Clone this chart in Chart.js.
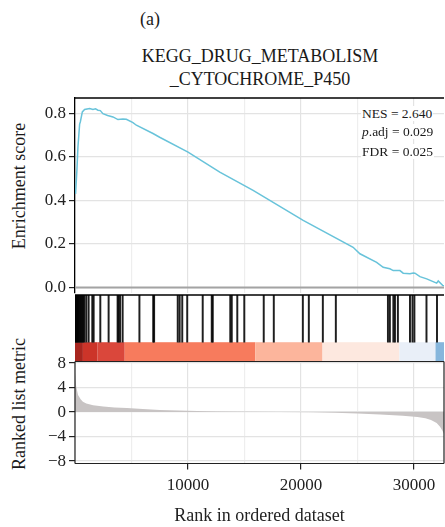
<!DOCTYPE html>
<html>
<head>
<meta charset="utf-8">
<script src="https://cdn.jsdelivr.net/npm/chart.js@4.4.1/dist/chart.umd.min.js"></script>
<style>
  body { margin: 0; background: #fff; width: 445px; height: 527px; position: relative; overflow: hidden;
         font-family: "Liberation Serif", "DejaVu Serif", serif; color: #1a1a1a; }
  canvas { position: absolute; left: 0; }
  .t { position: absolute; white-space: nowrap; }
  .stat { position: absolute; white-space: nowrap; font-size: 13.5px; line-height: 15px; background: #fff; padding: 0 1px; z-index: 2; }
  .ylab { position: absolute; white-space: nowrap; font-size: 18px; transform: translate(-50%, -50%) rotate(-90deg); }
</style>
</head>
<body>
<div class="t" style="left:140px;top:9px;font-size:18px">(a)</div>
<div class="t" style="left:75px;width:370px;top:45px;text-align:center;font-size:18px;line-height:23px">KEGG_DRUG_METABOLISM<br>_CYTOCHROME_P450</div>
<div class="stat" style="left:361px;top:106px">NES = 2.640</div>
<div class="stat" style="left:361px;top:124px"><i>p</i>.adj = 0.029</div>
<div class="stat" style="left:361px;top:144px">FDR = 0.025</div>
<div class="ylab" style="left:19px;top:186px">Enrichment score</div>
<div class="ylab" style="left:19px;top:404px">Ranked list metric</div>

<canvas id="es" width="445" height="210" style="top:90px"></canvas>
<canvas id="hits" width="445" height="75" style="top:290px"></canvas>
<canvas id="metric" width="445" height="172" style="top:355px"></canvas>

<script>
// running enrichment score
const esRank = [50, 170, 260, 410, 470, 650, 850, 1290, 1590, 1820, 2030, 2240, 2470, 2890, 3360, 3800, 4240, 4540,
  5130, 5430, 6900, 7490, 10000, 12810, 15760, 20190, 24610, 25210, 26690, 27270, 27860, 28160, 28750, 29040,
  29640, 29930, 30080, 30520, 31120, 32000, 32140, 32530, 32650];
const esScore = [0.43, 0.54, 0.645, 0.75, 0.76, 0.806, 0.817, 0.822, 0.817, 0.82, 0.814, 0.812, 0.798, 0.79, 0.783,
  0.771, 0.774, 0.772, 0.757, 0.745, 0.707, 0.69, 0.622, 0.53, 0.446, 0.308, 0.185, 0.155, 0.116, 0.093, 0.086,
  0.078, 0.078, 0.066, 0.063, 0.067, 0.066, 0.05, 0.04, 0.02, 0.03, 0.01, 0.008];

// gene set hits
const hitRank = [20, 60, 120, 190, 260, 340, 420, 500, 580, 660, 740, 830, 1000, 1205, 1530, 1650, 2240, 2975,
  3770, 3860, 3990, 4215, 5700, 6920, 7000, 9090, 9260, 9490, 9930, 11300, 12100, 12190, 13740, 13870, 14360,
  14980, 16700, 17590, 20160, 20690, 21930, 23080, 27690, 27860, 28170, 28310, 28570, 29640, 29860, 30030,
  31100, 32030];

// ranked list metric
const metricRank = [1, 100, 270, 500, 700, 1000, 1600, 2500, 3500, 4600, 6000, 7500, 10000, 12500, 15000, 18000,
  21000, 23000, 25000, 27000, 29000, 30300, 31000, 31500, 32000, 32300, 32500, 32650];
const metricValue = [6.4, 4.2, 2.8, 2.1, 1.7, 1.4, 1.1, 0.9, 0.75, 0.65, 0.5, 0.35, 0.2, 0.1, 0.03, 0, -0.05,
  -0.12, -0.25, -0.4, -0.6, -0.8, -1.0, -1.3, -1.8, -2.4, -3.0, -3.6];

// colour band along the ranking
const bandBreaks = [0, 700, 2000, 4400, 15950, 21900, 28700, 31900, 32650];

const nGenes = 32650;
const xTickLabels = [10000, 20000, 30000];
const xGridValues = [0, 5000, 10000, 15000, 20000, 25000, 30000];
const esTickLabels = [0, 0.2, 0.4, 0.6, 0.8];
const esGridValues = [0, 0.1, 0.2, 0.3, 0.4, 0.5, 0.6, 0.7, 0.8];
const metricTickLabels = [-8, -4, 0, 4, 8];
const metricGridValues = [-8, -6, -4, -2, 0, 2, 4, 6, 8];

const bandColors = ['#a8261f', '#cc3429', '#da473b', '#f77b5d', '#fcb59c', '#fde8df', '#e9eff8', '#86b6dc'];
const gridMajor = '#e3e3e3', gridMinor = '#eeeeee';

Chart.defaults.font.family = '"Liberation Serif", "DejaVu Serif", serif';
Chart.defaults.font.size = 17;
Chart.defaults.color = '#222';
Chart.defaults.animation = false;

const near = (arr, v) => arr.some(t => Math.abs(t - v) < 1e-6);
// scriptable helpers: the border option is also resolved without a tick
const isMajor = (arr, ctx) => !!ctx.tick && near(arr, ctx.tick.value);
const gridColor = arr => ctx => isMajor(arr, ctx) ? gridMajor : gridMinor;
const tickColor = arr => ctx => isMajor(arr, ctx) ? '#222' : 'rgba(0,0,0,0)';
const fixTicks = vals => s => { s.ticks = vals.map(v => ({ value: v })); };
// keep the plot area where the layout padding puts it (no room reserved for edge labels)
const fitY = w => s => { s.width = w; s.paddingTop = 0; s.paddingBottom = 0; };
const fitX = h => s => { s.height = h; s.paddingLeft = 0; s.paddingRight = 0; };

// draws lines along the edges of the plotting area
const panelBox = {
  id: 'panelBox',
  afterDraw(chart, args, opts) {
    const { ctx, chartArea: a } = chart;
    ctx.save();
    ctx.strokeStyle = opts.color || '#000';
    ctx.lineWidth = opts.width || 1;
    (opts.sides || []).forEach(s => {
      ctx.beginPath();
      if (s === 'top') { ctx.moveTo(a.left, a.top); ctx.lineTo(a.right, a.top); }
      if (s === 'bottom') { ctx.moveTo(a.left, a.bottom); ctx.lineTo(a.right, a.bottom); }
      if (s === 'left') { ctx.moveTo(a.left, a.top); ctx.lineTo(a.left, a.bottom); }
      if (s === 'right') { ctx.moveTo(a.right, a.top); ctx.lineTo(a.right, a.bottom); }
      ctx.stroke();
    });
    ctx.restore();
  }
};

// colour band under the hit lines
const rankBand = {
  id: 'rankBand',
  beforeDatasetsDraw(chart, args, opts) {
    const { ctx } = chart;
    const x = chart.scales.x, y = chart.scales.y;
    const top = y.getPixelForValue(opts.top), bottom = y.getPixelForValue(0);
    ctx.save();
    for (let i = 0; i < bandColors.length; i++) {
      const x0 = x.getPixelForValue(bandBreaks[i]);
      const x1 = x.getPixelForValue(bandBreaks[i + 1]);
      ctx.fillStyle = bandColors[i];
      ctx.fillRect(x0, top, x1 - x0, bottom - top);
    }
    ctx.restore();
  }
};

new Chart(document.getElementById('es'), {
  type: 'line',
  data: {
    datasets: [
      {
        data: [{ x: 0, y: 0 }, { x: nGenes, y: 0 }],
        borderColor: '#a3a3a3', borderWidth: 2, pointRadius: 0
      },
      {
        data: esRank.map((r, i) => ({ x: r, y: esScore[i] })),
        borderColor: '#68c3da', borderWidth: 1.5, pointRadius: 0, tension: 0
      }
    ]
  },
  options: {
    responsive: false,
    layout: { padding: { top: 8, bottom: 7, right: 1, left: 0 } },
    plugins: {
      legend: { display: false }, tooltip: { enabled: false },
      panelBox: { sides: ['top'], color: '#000', width: 1.3 }
    },
    scales: {
      x: {
        type: 'linear', min: 0, max: nGenes,
        afterBuildTicks: fixTicks(xGridValues),
        ticks: { display: false },
        grid: { color: gridColor(xTickLabels), drawTicks: false, lineWidth: 1.2 },
        border: { display: false, color: '#000' },
        afterFit: fitX(0)
      },
      y: {
        min: -0.025, max: 0.87,
        afterBuildTicks: fixTicks(esGridValues),
        ticks: { padding: 3, callback: v => near(esTickLabels, v) ? v.toFixed(1) : '' },
        grid: { color: gridColor(esTickLabels), tickColor: tickColor(esTickLabels), tickLength: 6, lineWidth: 1.2 },
        border: { display: true, color: '#000', width: 1.3 },
        afterFit: fitY(75)
      }
    }
  },
  plugins: [panelBox]
});

new Chart(document.getElementById('hits'), {
  type: 'bar',
  data: {
    datasets: [{
      data: hitRank.map(r => ({ x: r, y: [0.29, 1] })),
      backgroundColor: 'rgba(0,0,0,0.88)', barThickness: 1.3
    }]
  },
  options: {
    responsive: false,
    layout: { padding: { top: 5, bottom: 3.5, right: 1, left: 75 } },
    plugins: {
      legend: { display: false }, tooltip: { enabled: false },
      panelBox: { sides: ['top'], color: '#000', width: 1.5 },
      rankBand: { top: 0.29 }
    },
    scales: {
      x: { type: 'linear', min: 0, max: nGenes, offset: false, display: false, grid: { offset: false } },
      y: { min: 0, max: 1, display: false }
    }
  },
  plugins: [rankBand, panelBox]
});

new Chart(document.getElementById('metric'), {
  type: 'line',
  data: {
    datasets: [{
      data: metricRank.map((r, i) => ({ x: r, y: metricValue[i] })),
      borderWidth: 0, pointRadius: 0, tension: 0,
      fill: 'origin', backgroundColor: '#c8c4c4'
    }]
  },
  options: {
    responsive: false,
    layout: { padding: { top: 6.5, bottom: 0, right: 1, left: 0 } },
    plugins: {
      legend: { display: false }, tooltip: { enabled: false },
      panelBox: { sides: ['top', 'right', 'bottom', 'left'], color: '#222', width: 1.2 }
    },
    scales: {
      x: {
        type: 'linear', min: 0, max: nGenes,
        afterBuildTicks: fixTicks(xGridValues),
        ticks: {
          padding: 6, maxRotation: 0, autoSkip: false,
          callback: v => near(xTickLabels, v) ? String(v) : ''
        },
        grid: { color: gridColor(xTickLabels), tickColor: tickColor(xTickLabels), tickLength: 6, lineWidth: 1.2 },
        border: { display: false, color: '#222' },
        title: { display: true, text: 'Rank in ordered dataset', font: { size: 18 }, padding: { top: 0, bottom: 0 } },
        afterFit: fitX(63.5)
      },
      y: {
        min: -8.4, max: 8.25,
        afterBuildTicks: fixTicks(metricGridValues),
        ticks: {
          padding: 3,
          callback: v => near(metricTickLabels, v) ? (v < 0 ? '\u2212' + Math.abs(v) : String(v)) : ''
        },
        grid: { color: gridColor(metricTickLabels), tickColor: tickColor(metricTickLabels), tickLength: 6, lineWidth: 1.2 },
        border: { display: false, color: '#222' },
        afterFit: fitY(75)
      }
    }
  },
  plugins: [panelBox]
});
</script>
</body>
</html>
